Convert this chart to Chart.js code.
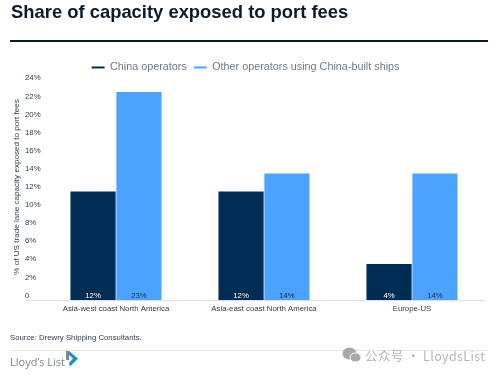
<!DOCTYPE html>
<html><head><meta charset="utf-8">
<style>
html,body{margin:0;padding:0;background:#fff;width:500px;height:375px;overflow:hidden;font-family:"Liberation Sans",sans-serif}
#wrap{position:absolute;left:0;top:0;width:500px;height:375px}
.abs{position:absolute;white-space:nowrap}
</style>
<script src="https://cdn.jsdelivr.net/npm/chart.js@4/dist/chart.umd.min.js"></script>
</head><body>
<div id="wrap"><canvas id="c" width="500" height="375"></canvas></div>
<div class="abs" style="left:10px;top:40px;width:478px;height:2px;background:#0b1a2e"></div>
<div class="abs" style="left:10px;top:333px;font-size:7.8px;color:#333d4a">Source: Drewry Shipping Consultants.</div>
<div class="abs" style="left:10px;top:350px;width:478px;height:1px;background:#e2e4e7"></div>
<div class="abs" style="left:10px;top:354px;font-family:'Open Sans';font-size:11px;color:#7d8794">Lloyd’s List</div>
<svg class="abs" style="left:66px;top:351px" width="13" height="16" viewBox="0 0 13 16"><path d="M0 0 L3 0 L3 9 L0 9Z" fill="#7d8794"/><path d="M3 0 L12 7.5 L4 15.5 L3 12 L7 7.5 L3 4Z" fill="#1a8fc9"/></svg>
<div class="abs" style="left:365px;top:346px;font-family:'Noto Sans CJK SC';font-size:12.5px;color:#b5b5b5;letter-spacing:.4px">公众号 · LloydsList</div>
<svg class="abs" style="left:342px;top:347px" width="20" height="18" viewBox="0 0 20 18"><ellipse cx="7.5" cy="6.5" rx="7" ry="6" fill="#a9a9a9"/><ellipse cx="13.5" cy="10.5" rx="5.5" ry="4.6" fill="#a9a9a9" stroke="#fff"/></svg>
<script>
const categories = ["Asia-west coast North America","Asia-east coast North America","Europe-US"];
const chinaOperators = [12,12,4];
const otherOperators = [23,14,14];
const yTicks = [0,2,4,6,8,10,12,14,16,18,20,22,24];
const seriesNames = ["China operators","Other operators using China-built ships"];
const titleText = "Share of capacity exposed to port fees";
const yTitle = "% of US trade lane capacity exposed to port fees";
const barLabels = {
  id:'barLabels',
  afterDatasetsDraw(chart){
    const ctx=chart.ctx;
    chart.data.datasets.forEach((ds,i)=>{
      chart.getDatasetMeta(i).data.forEach((bar,j)=>{
        ctx.save();
        ctx.font='7.8px "Liberation Sans"';
        ctx.textAlign='center';ctx.textBaseline='middle';
        ctx.fillStyle=i===0?'#ffffff':'#14304f';
        ctx.fillText(ds.data[j]+'%',bar.x,chart.scales.y.getPixelForValue(0)-4.5);
        ctx.restore();
      });
    });
  }
};
const baseLine = {
  id:'baseLine',
  beforeDraw(chart){
    // nudge label boxes only; the plot area and value scale are untouched
    const s=chart.scales.y;
    s.left=25;
    s.top=chart.chartArea.top-9;
    chart.legend.left=8;
    chart.legend.right=483;
  },
  afterDraw(chart){
    const ctx=chart.ctx,y=chart.scales.y.getPixelForValue(0);
    ctx.save();ctx.strokeStyle='#dcdfe3';ctx.lineWidth=1;
    ctx.beginPath();ctx.moveTo(25,y+.5);ctx.lineTo(chart.chartArea.right,y+.5);ctx.stroke();ctx.restore();
  }
};
new Chart(document.getElementById('c'),{
  type:'bar',
  data:{labels:categories,datasets:[
    {label:seriesNames[0],data:chinaOperators,backgroundColor:'#002d56'},
    {label:seriesNames[1],data:otherOperators,backgroundColor:'#4ba3ff'}
  ]},
  options:{
    responsive:false,animation:false,
    layout:{padding:{left:11,right:14,top:2,bottom:57.5}},
    datasets:{bar:{categoryPercentage:.62,barPercentage:.985}},
    plugins:{
      title:{display:true,text:titleText,align:'start',color:'#0b1a2e',font:{family:'"Liberation Sans"',size:18.4,weight:'bold'},padding:{top:0,bottom:31},
        position:'top'},
      legend:{position:'top',labels:{boxWidth:13,boxHeight:2,color:'#6f7a89',font:{family:'"Liberation Sans"',size:10.8},padding:7},onClick:null},
      tooltip:{enabled:false}
    },
    scales:{
      x:{grid:{display:false,drawTicks:false},border:{display:false},ticks:{color:'#333d4a',font:{family:'"Liberation Sans"',size:7.8},padding:4,maxRotation:0}},
      y:{min:0,max:24,
        afterBuildTicks(s){s.ticks=yTicks.map(v=>({value:v}));},
        afterFit(s){s.width=31;},
        grid:{display:false,drawTicks:false},border:{display:false},
        title:{display:true,text:yTitle,color:'#333d4a',font:{family:'"Liberation Sans"',size:8.1},padding:{top:-13,bottom:0}},
        ticks:{color:'#333d4a',font:{family:'"Liberation Sans"',size:7.8},padding:1,labelOffset:-4.6,crossAlign:'far',
          callback:v=>v===0?'0':v+'%'}
      }
    }
  },
  plugins:[barLabels,baseLine]
});
</script>
</body></html>
